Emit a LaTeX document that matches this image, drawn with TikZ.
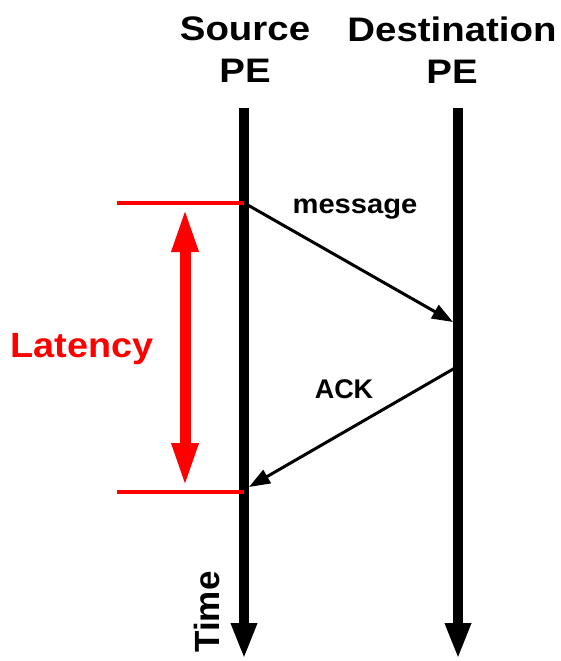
\documentclass[tikz,border=0pt]{standalone}
\usepackage{fontspec}
\setmainfont{Liberation Sans}
\newfontfamily\widesans[FakeStretch=1.13]{Liberation Sans}
\newfontfamily\midsans[FakeStretch=1.08]{Liberation Sans}
\usetikzlibrary{arrows.meta}
\begin{document}
\begin{tikzpicture}[x=1pt, y=-1pt, >=Triangle,
          pe/.style={align=center, font=\fontsize{34}{42}\widesans\bfseries},
          lbl/.style={anchor=base, font=\fontsize{27}{30}\selectfont\bfseries},
          timeline/.style={line width=10.5pt, -{Triangle[length=36pt, width=24pt]}},
          msg/.style={line width=3pt, -{Triangle[length=21pt, width=15pt]}},
          latline/.style={red, line width=3.5pt},
          span/.style={red, line width=11pt, {Triangle[length=45pt, width=24pt]}-{Triangle[length=45pt, width=24pt]}}]
        \useasboundingbox (0,0) rectangle (560,661);
        \node[pe] (src) at (245,50) {Source\\PE};
        \node[pe] (dst) at (452,50) {Destination\\PE};
        \coordinate (srcTop) at (244,108);
        \coordinate (srcEnd) at (244,659);
        \coordinate (dstTop) at (458,108);
        \coordinate (dstEnd) at (458,659);
        \draw[timeline] (srcTop) -- (srcEnd);
        \draw[timeline] (dstTop) -- (dstEnd);
        % message out, ACK back
        \coordinate (sendMsg) at (246,204);
        \coordinate (recvMsg) at (453,322);
        \coordinate (sendAck) at (455,368);
        \coordinate (recvAck) at (249,487);
        \draw[msg] (sendMsg) -- (recvMsg);
        \draw[msg] (sendAck) -- (recvAck);
        \node[lbl, font=\fontsize{27}{30}\midsans\bfseries] (msgLbl) at (355,213) {message};
        \node[lbl] (ackLbl) at (344,398) {ACK};
        % latency marks
        \coordinate (latTopL) at (117,203);
        \coordinate (latTopR) at (244,203);
        \coordinate (latBotL) at (117,492);
        \coordinate (latBotR) at (244,492);
        \draw[latline] (latTopL) -- (latTopR);
        \draw[latline] (latBotL) -- (latBotR);
        \coordinate (spanTop) at (185,207);
        \coordinate (spanBot) at (185,488);
        \draw[span] (spanTop) -- (spanBot);
        \node[anchor=base, red, font=\fontsize{35}{40}\midsans\bfseries] (lat) at (82,357) {Latency};
        \node[anchor=base, rotate=90, font=\fontsize{35}{40}\selectfont\bfseries] (time) at (219,612) {Time};
      \end{tikzpicture}
\end{document}
